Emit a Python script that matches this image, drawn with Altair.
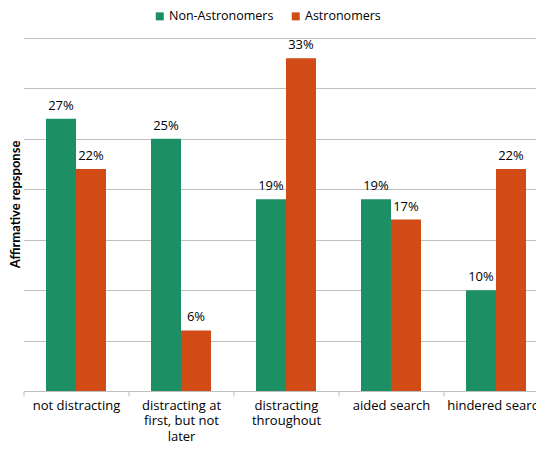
import altair as alt
import pandas as pd

categories = ["not distracting", "distracting at|first, but not|later", "distracting|throughout", "aided search", "hindered search"]
groups = ["Non-Astronomers", "Astronomers"]
non_astronomers = [27, 25, 19, 19, 10]
astronomers = [22, 6, 33, 17, 22]
colors = ["#1d8f65", "#d14b17"]
grid_values = [0, 5, 10, 15, 20, 25, 30, 35]

rows = []
for c, a, b in zip(categories, non_astronomers, astronomers):
    rows.append({"category": c, "group": groups[0], "value": a})
    rows.append({"category": c, "group": groups[1], "value": b})
df = pd.DataFrame(rows)

FONT = "Open Sans"

base = alt.Chart(df).transform_calculate(
    label="datum.value + '%'"
).encode(
    x=alt.X(
        "category:N",
        sort=categories,
        scale=alt.Scale(paddingInner=0, paddingOuter=0, range=[0, 525]),
        axis=alt.Axis(
            title=None,
            labelExpr="datum.value ? split(datum.value, '|') : ''",
            labelAngle=0,
            tickBand="extent",
            tickSize=5,
            tickColor="#bfbfbf",
            domainColor="#bfbfbf",
            labelFont=FONT,
            labelFontSize=13,
            labelColor="black",
            labelPadding=3,
            labelLineHeight=15.8,
            labelBaseline="top",
            labelLimit=0,
        ),
    ),
    xOffset=alt.XOffset("group:N", sort=groups, scale=alt.Scale(paddingOuter=0.75, paddingInner=0)),
)

bars = base.mark_bar().encode(
    y=alt.Y(
        "value:Q",
        scale=alt.Scale(domain=[0, 35], nice=False),
        axis=alt.Axis(
            values=grid_values,
            labels=False,
            ticks=False,
            domain=False,
            grid=True,
            gridColor="#c0c0c0",
            title="Affirmative repsponse",
            titleFont="Lato",
            titleFontSize=13,
            titleFontWeight="bold",
            titleColor="black",
            titleX=-1,
            titleY=166,
        ),
    ),
    color=alt.Color(
        "group:N",
        sort=groups,
        scale=alt.Scale(domain=groups, range=colors),
        legend=alt.Legend(
            title=None,
            orient="none",
            legendX=130,
            legendY=-28,
            direction="horizontal",
            symbolType="square",
            symbolSize=64,
            symbolStrokeWidth=0,
            labelFont=FONT,
            labelFontSize=12.5,
            labelColor="black",
            labelOffset=3,
            columnPadding=16,
        ),
    ),
)

texts = base.mark_text(baseline="alphabetic", dy=-9, font=FONT, fontSize=13, color="black").encode(
    y=alt.Y("value:Q"),
    text="label:N",
)

chart = alt.layer(bars, texts).properties(
    width=512.5,
    height=353,
    autosize=alt.AutoSizeParams(type="none"),
    padding={"left": 15.5, "top": 30, "right": 0, "bottom": 53},
    background="white",
).configure_view(stroke=None)

chart.save("out.html", embed_options={"renderer": "svg", "actions": False})
